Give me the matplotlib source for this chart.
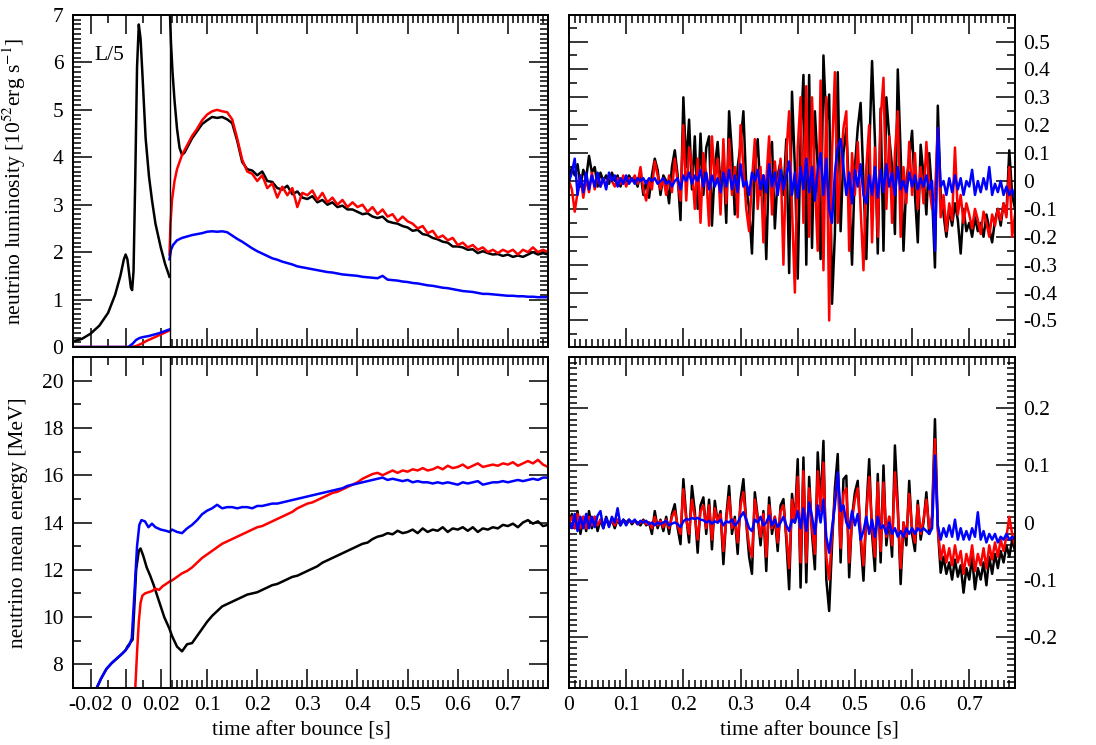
import numpy as np
import matplotlib
matplotlib.use("Agg")
import matplotlib.pyplot as plt
from matplotlib.ticker import FixedLocator, FixedFormatter, NullFormatter

plt.rcParams['font.family'] = ['Liberation Serif', 'DejaVu Serif']
plt.rcParams['mathtext.fontset'] = 'stix'
plt.rcParams['font.size'] = 15.5

BLACK, RED, BLUE = '#000000', '#ff0000', '#0000ff'

# ---------------------------------------------------------------- luminosity
# before the break (t <= 0.025 s) the luminosities are shown divided by 5
lum_t_pre_k = [-0.03, -0.025, -0.02, -0.015, -0.01, -0.006, -0.003, -0.001, 0.0, 0.001,
               0.002, 0.003, 0.0037, 0.0045, 0.0055, 0.0065, 0.0075, 0.0085, 0.0095, 0.0114,
               0.0133, 0.015, 0.017, 0.02, 0.0225, 0.025]
lum_k_pre = [0.12, 0.17, 0.28, 0.45, 0.72, 1.1, 1.5, 1.85, 1.95, 1.85,
             1.55, 1.25, 1.2, 1.6, 3.6, 5.9, 6.8, 6.5, 5.8, 4.4,
             3.6, 3.1, 2.6, 2.1, 1.75, 1.48]
lum_t_pre_r = [-0.03, 0.003, 0.006, 0.009, 0.012, 0.015, 0.018, 0.021, 0.025]
lum_r_pre = [0.0, 0.0, 0.02, 0.07, 0.13, 0.18, 0.23, 0.28, 0.35]
lum_t_pre_b = [-0.03, 0.0015, 0.004, 0.006, 0.008, 0.010, 0.013, 0.016, 0.019, 0.022, 0.025]
lum_b_pre = [0.0, 0.0, 0.07, 0.15, 0.19, 0.21, 0.23, 0.26, 0.29, 0.33, 0.37]

# after the break: early samples, then a 10 ms grid from 0.06 s to 0.78 s
lum_grid = np.round(np.arange(73) * 0.01 + 0.06, 3)

lum_t_early_k = [0.025, 0.028, 0.031, 0.035, 0.04, 0.045, 0.05, 0.055]
lum_k_early = [7.3, 6.4, 5.8, 5.2, 4.6, 4.2, 4.05, 4.1]
lum_k = [4.2, 4.4, 4.55, 4.7, 4.78, 4.85, 4.83, 4.85, 4.80, 4.72,
         4.35, 3.9, 3.75, 3.72, 3.62, 3.7, 3.5, 3.48, 3.35, 3.32,
         3.4, 3.22, 3.28, 3.15, 3.12, 3.18, 3.05, 3.1, 3.0, 3.05,
         2.95, 2.98, 2.9, 2.9, 2.85, 2.8, 2.82, 2.75, 2.72, 2.75,
         2.65, 2.62, 2.6, 2.55, 2.52, 2.45, 2.47, 2.38, 2.36, 2.3,
         2.27, 2.22, 2.2, 2.12, 2.12, 2.1, 2.05, 2.06, 1.98, 2.02,
         1.98, 1.95, 1.96, 1.92, 1.95, 1.9, 1.93, 1.9, 1.95, 2.0,
         1.95, 1.98, 1.95]

lum_t_early_r = [0.025, 0.027, 0.03, 0.035, 0.04, 0.045, 0.05, 0.055]
lum_r_early = [1.95, 2.6, 3.1, 3.5, 3.75, 3.9, 4.05, 4.15]
lum_r = [4.25, 4.45, 4.6, 4.78, 4.9, 4.97, 5.0, 4.97, 4.95, 4.8,
         4.4, 3.95, 3.7, 3.65, 3.5, 3.62, 3.35, 3.45, 3.15, 3.38,
         3.2, 3.35, 2.95, 3.25, 3.2, 3.3, 3.1, 3.25, 3.05, 3.15,
         3.0, 3.1, 2.95, 3.05, 2.95, 3.0, 2.85, 2.95, 2.8, 2.9,
         2.75, 2.8, 2.65, 2.75, 2.65, 2.6, 2.5, 2.55, 2.4, 2.45,
         2.3, 2.35, 2.25, 2.3, 2.15, 2.2, 2.1, 2.15, 2.05, 2.1,
         2.0, 2.05, 1.98, 2.05, 2.0, 2.05, 1.95, 2.05, 2.0, 2.1,
         2.0, 2.05, 2.0]

lum_t_early_b = [0.025, 0.028, 0.032, 0.04, 0.05]
lum_b_early = [1.85, 2.05, 2.15, 2.25, 2.3]
lum_b = [2.33, 2.36, 2.38, 2.4, 2.43, 2.44, 2.43, 2.44, 2.42, 2.35,
         2.28, 2.22, 2.15, 2.08, 2.02, 1.97, 1.92, 1.87, 1.84, 1.8,
         1.77, 1.74, 1.7, 1.68, 1.66, 1.64, 1.62, 1.6, 1.58, 1.57,
         1.55, 1.53, 1.52, 1.51, 1.5, 1.48, 1.47, 1.46, 1.45, 1.5,
         1.42, 1.41, 1.4, 1.38, 1.37, 1.35, 1.34, 1.32, 1.3, 1.29,
         1.27, 1.25, 1.24, 1.22, 1.2, 1.18, 1.17, 1.16, 1.14, 1.12,
         1.12, 1.11, 1.1, 1.09, 1.08, 1.08, 1.07, 1.07, 1.06, 1.06,
         1.05, 1.05, 1.05]

# ---------------------------------------------------------------- mean energy
en_grid = np.round(np.arange(76) * 0.01 + 0.03, 3)

en_t_early_k = [-0.0165, -0.014, -0.011, -0.008, -0.005, -0.002, 0.0, 0.001, 0.003, 0.004,
                0.005, 0.006, 0.0075, 0.0085, 0.010, 0.012, 0.014, 0.016, 0.018, 0.020,
                0.022, 0.025]
en_k_early = [7.0, 7.4, 7.8, 8.05, 8.25, 8.45, 8.6, 8.75, 8.95, 9.05,
              10.5, 12.0, 12.8, 12.9, 12.6, 12.1, 11.75, 11.35, 10.9, 10.45,
              10.0, 9.5]
en_k = [9.2, 8.75, 8.55, 8.85, 8.9, 9.2, 9.5, 9.8, 10.05, 10.25,
        10.45, 10.55, 10.65, 10.75, 10.85, 10.95, 11.0, 11.05, 11.15, 11.25,
        11.35, 11.4, 11.5, 11.6, 11.7, 11.75, 11.85, 11.95, 12.05, 12.15,
        12.3, 12.4, 12.5, 12.6, 12.7, 12.8, 12.9, 13.0, 13.1, 13.15,
        13.3, 13.4, 13.45, 13.55, 13.5, 13.65, 13.55, 13.6, 13.7, 13.55,
        13.75, 13.6, 13.7, 13.65, 13.8, 13.6, 13.75, 13.7, 13.8, 13.65,
        13.8, 13.6, 13.75, 13.7, 13.8, 13.75, 13.9, 13.85, 13.95, 13.8,
        14.0, 14.1, 13.95, 14.05, 13.85, 13.9]

en_t_early_r = [0.0055, 0.0065, 0.0075, 0.0085, 0.0095, 0.011, 0.013, 0.015, 0.017, 0.019,
                0.021, 0.023, 0.025]
en_r_early = [7.0, 8.5, 9.8, 10.6, 10.9, 11.0, 11.05, 11.1, 11.2, 11.15,
              11.3, 11.4, 11.5]
en_r = [11.55, 11.7, 11.85, 11.95, 12.1, 12.3, 12.5, 12.65, 12.8, 12.95,
        13.1, 13.2, 13.3, 13.4, 13.5, 13.6, 13.7, 13.8, 13.85, 13.95,
        14.05, 14.15, 14.25, 14.35, 14.45, 14.6, 14.7, 14.8, 14.85, 14.95,
        15.05, 15.15, 15.25, 15.3, 15.4, 15.5, 15.6, 15.7, 15.85, 15.95,
        16.05, 16.1, 16.0, 16.1, 16.2, 16.1, 16.2, 16.15, 16.25, 16.2,
        16.3, 16.2, 16.25, 16.35, 16.25, 16.4, 16.3, 16.35, 16.45, 16.3,
        16.4, 16.5, 16.35, 16.4, 16.45, 16.4, 16.5, 16.45, 16.55, 16.4,
        16.5, 16.6, 16.5, 16.65, 16.45, 16.35]

en_t_early_b = [-0.0165, -0.014, -0.011, -0.008, -0.005, -0.002, 0.0, 0.002, 0.0035, 0.005,
                0.0065, 0.0078, 0.009, 0.011, 0.013, 0.015, 0.017, 0.02, 0.023, 0.025]
en_b_early = [7.0, 7.4, 7.8, 8.05, 8.25, 8.45, 8.6, 8.8, 9.1, 11.0,
              13.0, 13.9, 14.1, 14.05, 13.8, 13.95, 13.8, 13.7, 13.65, 13.6]
en_b = [13.7, 13.6, 13.55, 13.75, 13.9, 14.1, 14.35, 14.5, 14.6, 14.75,
        14.6, 14.65, 14.65, 14.6, 14.65, 14.65, 14.6, 14.7, 14.7, 14.75,
        14.8, 14.8, 14.85, 14.9, 14.95, 15.0, 15.05, 15.1, 15.15, 15.2,
        15.25, 15.3, 15.35, 15.4, 15.45, 15.55, 15.6, 15.65, 15.7, 15.75,
        15.8, 15.85, 15.9, 15.8, 15.85, 15.8, 15.75, 15.8, 15.7, 15.75,
        15.7, 15.7, 15.65, 15.7, 15.65, 15.7, 15.65, 15.6, 15.7, 15.65,
        15.7, 15.75, 15.6, 15.65, 15.7, 15.7, 15.75, 15.7, 15.75, 15.8,
        15.75, 15.8, 15.85, 15.8, 15.9, 15.9]

# ---------------------------------------------------------------- relative deviations, 5 ms grid
dev_t = np.round(np.arange(157) * 0.005, 3)

dlum_k = [0.00, 0.05, 0.02, 0.06, -0.02, 0.04, 0.01, 0.09, 0.03, 0.05,
          -0.02, 0.03, 0.00, 0.02, -0.01, 0.03, 0.00, 0.02, -0.02, 0.01,
          -0.01, 0.02, 0.00, 0.01, -0.02, 0.03, -0.05, 0.00, -0.06, 0.02,
          0.08, 0.04, -0.05, 0.02, 0.00, -0.08, 0.05, 0.11, 0.02, -0.14,
          0.30, 0.05, 0.22, -0.03, 0.16, -0.10, 0.17, -0.05, 0.12, 0.16,
          -0.16, 0.05, 0.14, -0.02, 0.08, -0.15, 0.25, 0.10, -0.12, 0.05,
          0.13, 0.25, -0.02, -0.10, -0.26, 0.05, 0.15, -0.05, 0.02, -0.28,
          0.08, 0.14, -0.17, 0.02, 0.07, -0.05, 0.15, -0.33, 0.32, 0.05,
          -0.35, 0.15, 0.38, -0.30, 0.38, -0.24, 0.25, 0.05, -0.28, 0.45,
          0.20, 0.31, -0.44, -0.19, 0.39, -0.18, 0.10, 0.19, -0.05, -0.30,
          0.05, 0.19, 0.28, 0.00, -0.28, 0.10, 0.43, 0.15, -0.26, 0.26,
          -0.25, 0.30, 0.16, 0.05, -0.19, 0.40, 0.10, -0.25, 0.00, 0.08,
          0.18, -0.05, -0.22, 0.13, 0.02, -0.12, 0.10, -0.05, -0.31, 0.27,
          -0.05, -0.12, -0.20, -0.10, -0.16, -0.08, -0.14, -0.26, -0.10, -0.18,
          -0.15, -0.20, -0.13, -0.18, -0.15, -0.20, -0.12, -0.17, -0.22, -0.14,
          -0.10, -0.16, -0.08, -0.12, 0.11, -0.05, -0.10]
dlum_r = [0.00, -0.03, -0.11, -0.04, 0.02, -0.06, 0.01, -0.04, 0.03, -0.03,
          0.02, -0.02, 0.01, -0.02, 0.02, 0.00, -0.02, 0.01, -0.01, 0.02,
          -0.02, 0.01, 0.00, 0.02, -0.01, 0.05, -0.03, -0.07, 0.00, -0.03,
          0.07, 0.02, -0.03, 0.01, -0.05, 0.02, -0.04, 0.08, 0.00, -0.07,
          0.20, -0.07, 0.12, 0.05, -0.10, 0.08, -0.15, 0.10, 0.02, -0.16,
          0.16, 0.00, 0.08, -0.12, 0.15, -0.08, 0.15, -0.05, 0.05, -0.13,
          0.20, 0.05, -0.10, -0.18, 0.00, 0.15, -0.10, 0.05, -0.22, 0.00,
          0.16, -0.12, 0.07, -0.05, 0.08, -0.30, 0.10, 0.25, -0.10, -0.40,
          0.12, 0.30, -0.15, 0.34, -0.20, 0.30, 0.00, -0.25, 0.36, -0.32,
          0.30, -0.50, 0.10, 0.39, -0.15, 0.05, 0.19, 0.25, -0.25, 0.10,
          -0.05, 0.14, -0.10, -0.32, 0.05, 0.20, -0.22, 0.12, -0.20, 0.22,
          0.37, -0.10, 0.16, -0.15, 0.10, 0.25, -0.20, 0.05, -0.08, 0.14,
          -0.05, 0.10, -0.10, 0.05, -0.08, 0.14, -0.02, -0.10, -0.05, 0.19,
          -0.13, -0.05, -0.18, -0.08, -0.14, 0.12, -0.12, -0.05, -0.15, -0.08,
          -0.12, -0.17, -0.10, -0.14, -0.19, -0.11, -0.15, -0.20, -0.12, -0.16,
          -0.10, -0.14, -0.08, -0.13, 0.05, -0.20, -0.12]
dlum_b = [0.00, 0.03, 0.08, -0.05, 0.02, -0.04, 0.03, -0.03, 0.02, -0.02,
          0.03, -0.02, 0.01, -0.03, 0.03, 0.00, 0.02, -0.02, 0.01, -0.01,
          0.02, -0.01, 0.01, -0.01, 0.01, 0.00, 0.01, -0.01, 0.01, 0.00,
          0.01, -0.01, 0.00, 0.01, -0.01, 0.00, -0.02, 0.00, 0.01, -0.03,
          0.02, 0.00, 0.03, -0.01, 0.02, 0.00, 0.04, -0.02, 0.03, -0.03,
          0.02, -0.02, 0.01, -0.04, 0.03, -0.02, 0.04, -0.03, 0.02, -0.04,
          0.06, -0.02, 0.00, -0.05, 0.03, 0.00, 0.04, -0.03, 0.02, -0.04,
          0.06, -0.02, 0.03, -0.05, 0.04, -0.03, 0.02, 0.07, -0.05, 0.03,
          -0.06, 0.05, -0.03, 0.08, -0.04, 0.05, -0.07, 0.04, 0.10, -0.05,
          0.08, -0.10, -0.15, 0.03, 0.12, 0.15, 0.05, -0.05, 0.03, -0.08,
          0.04, -0.02, 0.06, -0.05, -0.08, 0.02, -0.05, 0.05, -0.06, 0.04,
          -0.04, 0.06, -0.02, 0.03, -0.05, 0.05, -0.03, 0.00, -0.04, 0.03,
          -0.02, 0.02, -0.03, 0.01, -0.02, 0.02, -0.03, 0.00, -0.25, 0.19,
          -0.02, 0.00, -0.05, 0.01, -0.04, 0.02, -0.03, 0.01, -0.05, 0.00,
          -0.02, 0.04, -0.05, 0.00, -0.04, 0.01, -0.03, 0.05, -0.05, -0.01,
          -0.04, 0.00, -0.05, -0.02, -0.05, -0.03, -0.06]

den_k = [0.000, 0.015, -0.010, 0.020, -0.020, 0.010, -0.015, 0.020, -0.010, 0.010,
         -0.015, 0.005, -0.010, 0.010, -0.005, 0.005, -0.010, 0.005, -0.005, 0.005,
         0.000, 0.005, -0.003, 0.003, 0.000, -0.005, 0.005, -0.005, 0.000, -0.020,
         0.020, -0.010, 0.005, -0.015, 0.010, -0.020, 0.015, 0.032, -0.010, -0.038,
         0.076, 0.010, -0.035, 0.064, 0.020, -0.053, 0.030, 0.044, -0.020, 0.040,
         -0.047, 0.038, 0.000, 0.020, -0.073, 0.010, 0.064, -0.020, 0.010, -0.055,
         0.040, 0.076, 0.000, -0.060, -0.090, 0.053, 0.010, -0.040, 0.020, -0.085,
         0.044, -0.020, 0.010, -0.050, 0.030, 0.041, -0.030, -0.117, 0.050, 0.000,
         0.111, -0.114, 0.114, -0.105, 0.080, -0.020, -0.082, 0.123, 0.030, 0.143,
         -0.100, -0.155, -0.040, 0.060, 0.120, -0.070, 0.076, 0.082, -0.096, 0.010,
         0.053, 0.073, -0.030, -0.102, 0.020, 0.111, -0.020, -0.085, 0.085, -0.070,
         0.100, -0.040, 0.010, -0.060, 0.135, 0.030, -0.108, 0.000, -0.040, 0.073,
         -0.020, -0.050, 0.038, -0.030, 0.000, 0.053, -0.020, 0.010, 0.181, -0.010,
         -0.088, -0.060, -0.090, -0.070, -0.100, -0.065, -0.095, -0.075, -0.123, -0.080,
         -0.100, -0.060, -0.117, -0.080, -0.100, -0.070, -0.110, -0.060, -0.090, -0.055,
         -0.080, -0.050, -0.070, -0.040, -0.060, -0.030, -0.050]
den_r = [0.000, 0.010, -0.010, 0.015, -0.010, 0.010, -0.010, 0.010, -0.005, 0.010,
         -0.005, 0.005, -0.005, 0.005, -0.005, 0.005, -0.005, 0.005, 0.000, 0.003,
         -0.003, 0.003, 0.000, 0.003, -0.003, 0.000, 0.003, -0.003, 0.000, -0.010,
         0.010, -0.005, 0.003, -0.008, 0.005, -0.010, 0.010, 0.020, -0.005, -0.020,
         0.058, 0.005, -0.020, 0.040, 0.010, -0.030, 0.020, 0.030, -0.010, 0.030,
         -0.030, 0.025, 0.000, 0.015, -0.050, 0.005, 0.045, -0.010, 0.005, -0.035,
         0.030, 0.053, 0.000, -0.040, -0.060, 0.040, 0.005, -0.025, 0.015, -0.060,
         0.030, -0.010, 0.010, -0.035, 0.020, 0.030, -0.020, -0.080, 0.040, 0.000,
         0.080, -0.070, 0.090, -0.070, 0.060, -0.010, -0.055, 0.090, 0.020, 0.105,
         -0.060, -0.100, -0.020, 0.040, 0.085, -0.045, 0.050, 0.060, -0.070, 0.005,
         0.040, 0.060, -0.020, -0.075, 0.015, 0.080, -0.010, -0.060, 0.070, -0.050,
         0.070, -0.025, 0.010, -0.040, 0.088, 0.020, -0.080, 0.000, -0.025, 0.050,
         -0.010, -0.035, 0.030, -0.020, 0.005, 0.040, -0.010, 0.010, 0.146, -0.010,
         -0.065, -0.040, -0.070, -0.045, -0.075, -0.040, -0.070, -0.050, -0.090, -0.055,
         -0.075, -0.040, -0.085, -0.055, -0.075, -0.045, -0.080, -0.040, -0.065, -0.035,
         -0.060, -0.030, -0.050, -0.025, 0.010, -0.020, -0.040]
den_b = [0.000, -0.010, 0.015, -0.015, 0.010, -0.010, 0.015, -0.010, 0.010, -0.008,
         0.012, 0.020, -0.010, 0.008, -0.008, 0.010, 0.000, 0.025, -0.005, 0.005,
         -0.005, 0.005, 0.000, 0.005, -0.003, 0.003, 0.000, 0.003, -0.003, 0.000,
         -0.005, 0.000, -0.003, 0.000, 0.003, -0.005, -0.002, 0.000, -0.003, -0.008,
         0.002, 0.006, 0.005, 0.008, 0.006, 0.008, 0.005, 0.004, 0.000, 0.003,
         -0.002, 0.002, 0.000, 0.005, -0.005, 0.002, 0.000, 0.005, -0.005, 0.000,
         0.010, 0.018, 0.005, -0.010, -0.015, 0.005, 0.000, 0.010, -0.005, 0.000,
         0.012, -0.005, 0.005, -0.008, 0.000, 0.010, -0.005, -0.015, 0.005, 0.000,
         0.020, -0.010, 0.025, -0.015, 0.035, 0.010, -0.020, 0.030, 0.000, 0.040,
         -0.025, -0.053, -0.010, 0.030, 0.088, 0.020, 0.030, 0.000, -0.010, 0.020,
         -0.005, 0.015, -0.030, -0.015, 0.010, -0.020, 0.005, -0.025, 0.010, -0.010,
         -0.005, -0.020, 0.000, -0.020, -0.010, -0.025, -0.015, -0.025, -0.010, -0.020,
         -0.010, -0.020, -0.010, -0.015, -0.010, -0.015, -0.020, -0.010, 0.117, -0.005,
         -0.030, -0.010, -0.025, -0.005, -0.025, 0.005, -0.030, -0.010, -0.030, -0.015,
         -0.030, -0.010, -0.025, 0.018, -0.030, -0.015, -0.035, -0.020, -0.030, -0.020,
         -0.035, -0.025, -0.030, -0.020, -0.030, -0.025, -0.030]

# ---------------------------------------------------------------- axis helpers
BREAK = 0.025      # end of the stretched early-time section
STRETCH = 3.5      # magnification of the early-time section


def fwd(t):
    t = np.asarray(t, dtype=float)
    return np.where(t < BREAK, (t - BREAK) * STRETCH, t - BREAK)


def inv(u):
    u = np.asarray(u, dtype=float)
    return np.where(u < 0, u / STRETCH + BREAK, u + BREAK)


left_major = [-0.02, 0.0, 0.02, 0.1, 0.2, 0.3, 0.4, 0.5, 0.6, 0.7]
left_major_lbl = ['-0.02', '0', '0.02', '0.1', '0.2', '0.3', '0.4', '0.5', '0.6', '0.7']
left_minor = [-0.03, -0.01, 0.01] + [round(0.03 + 0.01 * i, 2) for i in range(76)
                                     if (3 + i) % 10 != 0]
right_major = [0.0, 0.1, 0.2, 0.3, 0.4, 0.5, 0.6, 0.7]
right_major_lbl = ['0', '0.1', '0.2', '0.3', '0.4', '0.5', '0.6', '0.7']
right_minor = [round(0.01 * i, 2) for i in range(79) if i % 10 != 0]


def frame(ax):
    for s in ax.spines.values():
        s.set_linewidth(1.4)
    ax.tick_params(which='both', direction='in', top=True, bottom=True,
                   left=True, right=True, width=1.1, colors='black')
    ax.tick_params(which='major', length=14)
    ax.tick_params(which='minor', length=6)


def left_xaxis(ax, labels):
    ax.set_xscale('function', functions=(fwd, inv))
    ax.set_xlim(-0.03, 0.78)
    ax.xaxis.set_major_locator(FixedLocator(left_major))
    ax.xaxis.set_minor_locator(FixedLocator(left_minor))
    ax.xaxis.set_minor_formatter(NullFormatter())
    if labels:
        ax.xaxis.set_major_formatter(FixedFormatter(left_major_lbl))
    else:
        ax.xaxis.set_major_formatter(NullFormatter())
    ax.axvline(BREAK, color='black', lw=1.0, zorder=5)


def right_xaxis(ax, labels):
    ax.set_xlim(0.0, 0.78)
    ax.xaxis.set_major_locator(FixedLocator(right_major))
    ax.xaxis.set_minor_locator(FixedLocator(right_minor))
    ax.xaxis.set_minor_formatter(NullFormatter())
    if labels:
        ax.xaxis.set_major_formatter(FixedFormatter(right_major_lbl))
    else:
        ax.xaxis.set_major_formatter(NullFormatter())


def fmt(v):
    s = ('%.1f' % v).rstrip('0').rstrip('.')
    return '0' if s in ('0', '-0') else s


W, H = 1096, 745
fig = plt.figure(figsize=(W / 100, H / 100), dpi=100)


def box(x0, y0, x1, y1):
    return [x0 / W, 1 - y1 / H, (x1 - x0) / W, (y1 - y0) / H]


ax_lum = fig.add_axes(box(73, 15, 548, 347))
ax_en = fig.add_axes(box(73, 357, 548, 688))
ax_dl = fig.add_axes(box(569, 15, 1015, 347))
ax_de = fig.add_axes(box(569, 357, 1015, 688))

LW = 1.8

# luminosity
ax_lum.plot(lum_t_pre_k, lum_k_pre, color=BLACK, lw=LW)
ax_lum.plot(lum_t_pre_r, lum_r_pre, color=RED, lw=LW)
ax_lum.plot(lum_t_pre_b, lum_b_pre, color=BLUE, lw=LW)
ax_lum.plot(list(lum_t_early_k) + list(lum_grid), lum_k_early + lum_k, color=BLACK, lw=LW)
ax_lum.plot(list(lum_t_early_r) + list(lum_grid), lum_r_early + lum_r, color=RED, lw=LW)
ax_lum.plot(list(lum_t_early_b) + list(lum_grid), lum_b_early + lum_b, color=BLUE, lw=LW)
frame(ax_lum)
left_xaxis(ax_lum, labels=False)
ax_lum.set_ylim(0, 7)
ax_lum.set_yticks(range(8))
ax_lum.set_yticks([round(0.1 * i, 1) for i in range(71) if i % 10 != 0], minor=True)
ax_lum.set_ylabel('neutrino luminosity [10$^{52}$erg s$^{-1}$]')
ax_lum.yaxis.set_label_coords(-0.095, 0.5)
ax_lum.text(0.046, 0.877, 'L/5', transform=ax_lum.transAxes, ha='left', va='center')
ax_lum.tick_params(axis='y', which='major', pad=7)

# mean energy
ax_en.plot(list(en_t_early_k) + list(en_grid), en_k_early + en_k, color=BLACK, lw=LW)
ax_en.plot(list(en_t_early_r) + list(en_grid), en_r_early + en_r, color=RED, lw=LW)
ax_en.plot(list(en_t_early_b) + list(en_grid), en_b_early + en_b, color=BLUE, lw=LW)
frame(ax_en)
left_xaxis(ax_en, labels=True)
ax_en.set_ylim(7, 21)
ax_en.set_yticks([8, 10, 12, 14, 16, 18, 20])
ax_en.set_yticks([7, 9, 11, 13, 15, 17, 19, 21], minor=True)
ax_en.set_ylabel('neutrino mean energy [MeV]')
ax_en.yaxis.set_label_coords(-0.095, 0.5)
ax_en.set_xlabel('time after bounce [s]')
ax_en.xaxis.set_label_coords(0.48, -0.1)
ax_en.tick_params(axis='y', which='major', pad=7)
ax_en.tick_params(axis='x', which='major', pad=6)

# luminosity deviations
ax_dl.plot(dev_t, dlum_k, color=BLACK, lw=LW)
ax_dl.plot(dev_t, dlum_r, color=RED, lw=LW)
ax_dl.plot(dev_t, dlum_b, color=BLUE, lw=LW)
frame(ax_dl)
right_xaxis(ax_dl, labels=False)
ax_dl.set_ylim(-0.595, 0.595)
dl_major = [round(-0.5 + 0.1 * i, 1) for i in range(11)]
ax_dl.yaxis.set_major_locator(FixedLocator(dl_major))
ax_dl.yaxis.set_major_formatter(FixedFormatter([fmt(v) for v in dl_major]))
ax_dl.yaxis.set_minor_locator(FixedLocator([round(-0.55 + 0.1 * i, 2) for i in range(12)]))
ax_dl.tick_params(axis='y', which='both', labelleft=False, labelright=True)
ax_dl.tick_params(axis='y', which='major', pad=6)

# mean energy deviations
ax_de.plot(dev_t, den_k, color=BLACK, lw=LW)
ax_de.plot(dev_t, den_r, color=RED, lw=LW)
ax_de.plot(dev_t, den_b, color=BLUE, lw=LW)
frame(ax_de)
right_xaxis(ax_de, labels=True)
ax_de.set_ylim(-0.29, 0.29)
de_major = [-0.2, -0.1, 0.0, 0.1, 0.2]
ax_de.yaxis.set_major_locator(FixedLocator(de_major))
ax_de.yaxis.set_major_formatter(FixedFormatter([fmt(v) for v in de_major]))
ax_de.yaxis.set_minor_locator(FixedLocator([round(-0.29 + 0.01 * i, 2) for i in range(59)
                                            if (i + 1) % 10 != 0]))
ax_de.tick_params(axis='y', which='both', labelleft=False, labelright=True)
ax_de.tick_params(axis='y', which='major', pad=6)
ax_de.tick_params(axis='x', which='major', pad=6)
ax_de.set_xlabel('time after bounce [s]')
ax_de.xaxis.set_label_coords(0.538, -0.1)

fig.savefig('out.png', dpi=100)
